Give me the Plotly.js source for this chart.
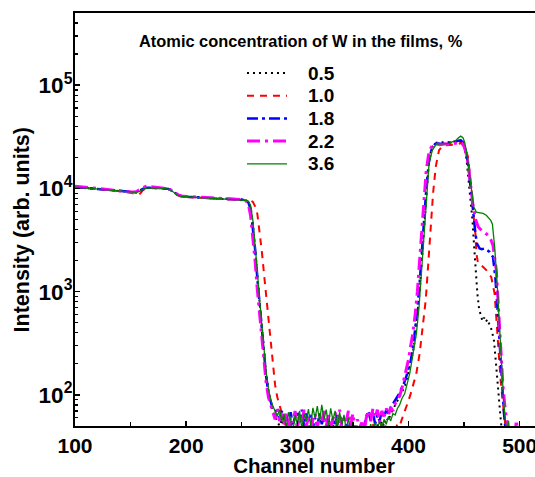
<!DOCTYPE html>
<html><head><meta charset="utf-8">
<script src="https://cdn.plot.ly/plotly-3.0.1.min.js"></script>
<style>html,body{margin:0;padding:0;overflow:hidden;background:#fff}#chart{width:553px;height:477px}</style>
</head><body><div id="chart"></div>
<script>
// Shared channel grids
const chLeft = [100,110,120,130,140,150,155,158,161,164,168,172,176,180,184,187,190,193,196,200,210,220,230,240,250,254];
const chDrop = [256,258,260,262,264,266,268,270,272,274,276,278];
const chNoise = [280,282,284,286,288,290,292,294,296,298,300,302,304,306,308,310,312,314,316,318,320,322,324,326,328,330,332,334,336,338,340,342,344,346,348,350,352,354,356,358,360,362,364,366,368,370,372,374,376,378,380,382,384,386,388,390,392,394];

// 0.5 %
const leftY05 = [10300,10150,9950,9700,9450,9200,9150,9400,9850,10100,10150,10100,10050,10000,9900,9550,9000,8550,8350,8300,8200,8100,8000,7900,7800,7650];
const dropY05 = [7400,6600,4600,2800,1500,800,470,260,160,110,85,70];
const noiseY05 = [62,55,50,58,48,53,45,56,46,42,52,44,40,48,42,50,44,52,46,40,48,44,50,42,54,46,52,44,55,47,53,45,50,42,48,40,46,40,44,38,46,40,48,42,50,44,52,46,56,50,60,56,66,72,80,88,96,108];
const peakX05 = [396,398,400,402,404,406,408,410,412,414,416,418,420,422,424,427,430,433,436,439,442,445,448,450,452,454,456,457.5,459,460.5,462,463.5,465,466.5,468,469.5,471,473,475,477,479,480.5,482,483.5,485];
const peakY05 = [115,135,165,200,260,360,560,1000,2000,4300,9000,16500,22500,25800,27500,28000,28000,27800,28000,28200,28500,28800,28000,26000,20000,12500,7500,5000,2800,1600,950,680,580,520,560,510,540,480,420,330,200,120,76,50,42];

// 1.0 %
const leftY10 = [10250,10100,9900,9650,9400,9100,8800,8750,9600,10000,10100,10050,10000,9950,9850,9500,8950,8500,8300,8250,8150,8050,7950,7850,7750,7700];
const dropY10 = [7700,7650,7400,6700,5700,4000,2500,1500,900,520,300,180];
const noiseY10 = [125,95,78,65,56,48,44,52,40,46,38,50,42,36,44,40,48,38,42,36,46,40,52,38,44,40,48,36,42,38,46,40,36,44,38,42,36,40,34,38,44,38,48,40,52,42,50,44,54,46,52,48,44,50,46,52,50,58];
const peakX10 = [396,398,400,402,404,407,410,413,415.5,417.6,419.7,422.1,424.5,427.5,431,435,440,444,447.6,450,452,453.5,455,456.6,458.7,460.2,461.1,462.6,465.5,468,470,472,474.5,477.5,479,481.1,482.9,485,486.5,488];
const peakY10 = [66,76,88,103,125,160,250,455,826,1740,3950,8950,16200,23500,26000,26200,26500,26800,27500,26000,23000,20200,14000,10000,5300,3650,2340,1870,1800,1700,1620,1500,1380,955,526,250,138,82,55,42];

// 1.8 %
const leftY18 = [10300,10100,9900,9700,9450,9200,9200,9450,9900,10150,10200,10150,10050,10000,9900,9500,9000,8550,8400,8300,8200,8100,8050,7950,7800,7600];
const dropY18 = [7300,6300,4300,2600,1350,750,430,240,150,105,85,72];
const noiseY18 = [72,66,60,70,55,64,52,68,50,62,70,54,72,50,66,56,64,48,60,50,66,52,62,46,58,48,60,50,64,46,54,44,52,46,56,44,50,42,48,40,52,62,70,56,68,52,64,56,70,60,72,66,76,82,88,96,104,118];
const peakX18 = [396,398,400,402,404,406,408,410,412,414,416,418,420,422,424,427,430,433,436,439,442,445,447,449,451,453.5,455,456.6,458.7,460.2,461.6,464,466,468.5,471,473,476,478.1,480,482,484.1,485.9,487,488];
const peakY18 = [130,150,180,215,280,420,680,1200,2500,5000,9800,17000,22500,25500,27000,27200,27000,27300,27500,27800,28300,29000,29200,28000,24000,17800,13000,8900,5300,3650,2930,2620,2580,2620,2500,2430,2170,1380,710,290,119,66,50,42];

// 2.2 %
const leftY22 = [10500,10200,10000,9750,9500,9250,9300,9700,10200,10500,10400,10300,10200,10100,9950,9600,9100,8650,8450,8350,8250,8150,8050,7950,7800,7550];
const dropY22 = [7000,5400,3500,2000,1050,600,340,200,130,95,78,68];
const noiseY22 = [58,74,56,70,52,66,48,62,54,70,46,64,52,72,50,60,44,58,66,48,62,54,70,50,64,46,58,68,52,72,48,62,56,70,50,66,44,58,48,54,42,60,70,56,74,60,72,54,70,62,74,64,76,70,82,90,98,115];
const peakX22 = [396,398,400,402,404,406,408,410,412,414,416,418,420,422,425,428,431,434,437,440,443,446,448,450,452,454,456,458,460.2,462.6,465,467,469,471.5,474,476,479,481.1,483,485,487.4,488.5,490,492,494,496,497,498,500,502,504];
const peakY22 = [140,175,220,300,400,600,1000,2000,4200,8500,15000,21000,24500,26500,27000,26500,26800,27000,26500,27000,27800,28000,27500,25500,21500,16500,10500,6900,5100,4250,4000,3800,3700,3520,3200,2820,1620,710,290,120,66,52,44,40,46,42,57,45,44,40,38];

// 3.6 %
const leftY36 = [10300,10100,9900,9700,9450,9200,9150,9350,9800,10050,10150,10100,10050,10000,9850,9500,9000,8500,8350,8300,8200,8100,8000,7900,7750,7650];
const dropY36 = [7500,6800,4900,3000,1600,850,500,270,165,115,90,78];
const noiseY36 = [70,62,72,55,66,48,68,58,44,64,52,70,47,66,56,73,50,75,60,78,55,80,58,72,50,74,57,70,46,68,52,64,45,60,44,55,42,50,40,48,42,46,40,52,44,54,46,56,48,58,52,62,56,66,64,74,80,92];
const peakX36 = [396.6,398.5,401.1,404.1,405.5,407.1,409.5,411.6,413.7,416.1,418.5,421.5,425,428,431,434,437,440,443,445,447,449,450.5,452,454.5,456.6,458.7,461,464,467,470,472,474,475.5,477.5,479.6,481.4,483.5,485.6,487.4,489,490,491,493,496,499,502];
const peakY36 = [103,125,161,251,300,393,711,1500,3660,8900,17500,23500,26900,27000,26900,27200,27500,28200,29400,31000,32100,31000,28000,23400,15000,9600,6630,5900,5800,5720,5500,5200,4900,4500,2720,1290,526,216,88,52,44,56,42,40,45,41,38];

const seriesNames = ['0.5','1.0','1.8','2.2','3.6'];
const legendHeading = 'Atomic concentration of W in the films, %';
const xTitle = 'Channel number';
const yTitle = 'Intensity (arb. units)';

const FONT = 'Liberation Sans, Arial, sans-serif';

const styles = [
  {color: '#000000', width: 2, dash: '2px,4px'},
  {color: '#ff0000', width: 2, dash: '7px,6px'},
  {color: '#0000ff', width: 2.5, dash: '11px,4px,3px,4px'},
  {color: '#ff00ff', width: 3, dash: '13px,5px,3px,5px'},
  {color: '#008000', width: 1.3, dash: 'solid'}
];

function mk(i, leftY, dropY, noiseY, peakX, peakY) {
  return {
    type: 'scatter', mode: 'lines', name: seriesNames[i],
    x: chLeft.concat(chDrop, chNoise, peakX),
    y: leftY.concat(dropY, noiseY, peakY),
    line: styles[i],
    showlegend: false
  };
}

const data = [
  mk(0, leftY05, dropY05, noiseY05, peakX05, peakY05),
  mk(1, leftY10, dropY10, noiseY10, peakX10, peakY10),
  mk(2, leftY18, dropY18, noiseY18, peakX18, peakY18),
  mk(3, leftY22, dropY22, noiseY22, peakX22, peakY22),
  mk(4, leftY36, dropY36, noiseY36, peakX36, peakY36)
];

// Hand-built legend (line samples + labels) in paper coordinates
const legTop = 0.8545, legStep = 0.0549;
const legX0 = 0.3598, legX1 = 0.4435, legTextX = 0.4833;
const shapes = [];
const annotations = [{
  text: legendHeading, xref: 'paper', yref: 'paper',
  x: 0.4738, y: 0.932, xanchor: 'center', yanchor: 'middle', showarrow: false,
  font: {family: FONT, size: 16.4, weight: 700, color: '#000'}
}, {
  text: yTitle, xref: 'paper', yref: 'paper', textangle: -90,
  x: -0.1110, y: 0.4757, xanchor: 'center', yanchor: 'middle', showarrow: false,
  font: {family: FONT, size: 21.5, weight: 700, color: '#000'}
}];
seriesNames.forEach(function (nm, i) {
  const yy = legTop - i * legStep;
  shapes.push({type: 'line', xref: 'paper', yref: 'paper', x0: legX0, x1: legX1, y0: yy, y1: yy,
    line: {color: styles[i].color, width: styles[i].width, dash: styles[i].dash}});
  annotations.push({text: nm, xref: 'paper', yref: 'paper', x: legTextX, y: yy,
    xanchor: 'left', yanchor: 'middle', showarrow: false,
    font: {family: FONT, size: 19, weight: 700, color: '#000'}});
});

const layout = {
  width: 553, height: 477,
  margin: {l: 75, r: 0, t: 13, b: 51},
  paper_bgcolor: '#ffffff', plot_bgcolor: '#ffffff',
  showlegend: false,
  shapes: shapes,
  annotations: annotations,
  xaxis: {
    range: [100, 530], tickmode: 'linear', tick0: 100, dtick: 100,
    showline: true, linewidth: 2, linecolor: '#000', mirror: true,
    ticks: 'inside', ticklen: 5, tickwidth: 1.5, tickcolor: '#000',
    minor: {ticks: 'inside', ticklen: 4, tickwidth: 1.5, tickcolor: '#000', tick0: 100, dtick: 50, showgrid: false},
    showgrid: false, zeroline: false, automargin: false,
    tickfont: {family: FONT, size: 21, weight: 700, color: '#000'},
    title: {text: xTitle, font: {family: FONT, size: 20.5, weight: 700, color: '#000'}, standoff: 10}
  },
  yaxis: {
    type: 'log', range: [1.699, 5.699], tickmode: 'linear', tick0: 0, dtick: 1,
    exponentformat: 'power', showexponent: 'all',
    showline: true, linewidth: 2, linecolor: '#000', mirror: false,
    ticks: 'inside', ticklen: 5, tickwidth: 1.5, tickcolor: '#000',
    minor: {ticks: 'inside', ticklen: 3, tickwidth: 1.2, tickcolor: '#000', dtick: 'D1', showgrid: false},
    showgrid: false, zeroline: false, automargin: false,
    ticklabelstandoff: -3,
    tickfont: {family: FONT, size: 18, weight: 700, color: '#000'}
  }
};

Plotly.newPlot('chart', data, layout, {displayModeBar: false, staticPlot: true});
</script>
</body></html>
